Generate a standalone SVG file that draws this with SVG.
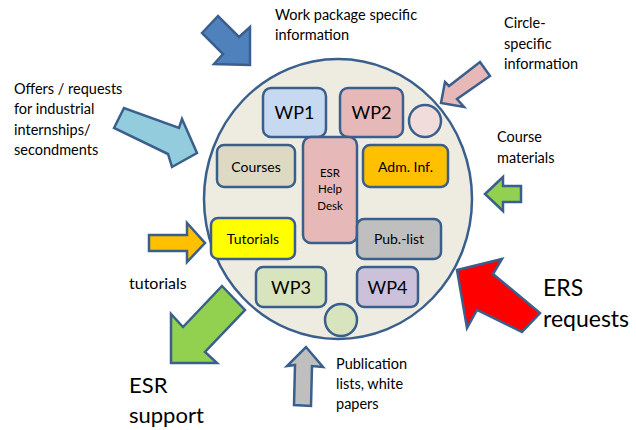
<svg xmlns="http://www.w3.org/2000/svg" width="636" height="430" viewBox="0 0 636 430">
<style>
text{font-family:Lato,"Open Sans","Liberation Sans",sans-serif;fill:#000}
.box{stroke:#3A5F8C;stroke-width:2.5}
.arr{stroke:#3A5F8C;stroke-width:2.5;stroke-linejoin:miter}
.lbl{font-size:14.5px}
.big{font-size:18px}
.mid{font-size:14px}
.hd{font-size:11.5px}
.c{text-anchor:middle}
</style>
<rect width="636" height="430" fill="#fff"/>
<g id="hub">
<ellipse cx="338" cy="199" rx="134" ry="140" fill="#EEECE1" stroke="#3A5F8C" stroke-width="2.5"/>
</g>
<g id="wp1"><rect class="box" x="263" y="88" width="63" height="49" rx="8" fill="#C6D9F1"/><text class="big c" x="294.5" y="119">WP1</text></g>
<g id="wp2"><rect class="box" x="340" y="88" width="63" height="49" rx="8" fill="#E6B9B8"/><text class="big c" x="371.5" y="119">WP2</text></g>
<g id="circleTop"><circle class="box" cx="425" cy="121" r="16" fill="#F2DCDB"/></g>
<g id="courses"><rect class="box" x="217" y="145" width="78" height="42" rx="7" fill="#DDD9C3"/><text class="mid c" x="256" y="171.5">Courses</text></g>
<g id="helpdesk"><rect class="box" x="303" y="137" width="54" height="106" rx="8" fill="#E6B9B8"/><text class="hd c" x="330" y="177">ESR</text><text class="hd c" x="330" y="193">Help</text><text class="hd c" x="330" y="210">Desk</text></g>
<g id="adm"><rect class="box" x="363" y="145" width="85" height="42" rx="7" fill="#FFC000"/><text class="mid c" x="405.5" y="171.5">Adm. Inf.</text></g>
<g id="tutorials"><rect class="box" x="211" y="218" width="84" height="41" rx="7" fill="#FFFF00"/><text class="mid c" x="253" y="243.5">Tutorials</text></g>
<g id="publist"><rect class="box" x="357" y="219" width="84" height="40" rx="7" fill="#BFBFBF"/><text class="mid c" x="399" y="243.5">Pub.-list</text></g>
<g id="wp3"><rect class="box" x="256" y="267" width="70" height="40" rx="7" fill="#D7E4BD"/><text class="big c" x="291" y="293.5">WP3</text></g>
<g id="wp4"><rect class="box" x="357" y="267" width="61" height="40" rx="7" fill="#CCC1DA"/><text class="big c" x="387.5" y="293.5">WP4</text></g>
<g id="circleBottom"><circle class="box" cx="341" cy="320" r="16" fill="#D7E4BD"/></g>
<g id="connectors">
<polygon class="arr" fill="#4F81BD" points="202,33 218,16 239,37 250,27 250,65 214,64 223,54"/>
<polygon class="arr" fill="#93CDDD" points="114,128 124,108 179,128 182,119 197,153 172,167 168,154"/>
<polygon class="arr" fill="#E6B9B8" points="480,62 490,76 457,99 464,107 441,103 445,82 449,86"/>
<polygon class="arr" fill="#92D050" points="521,186 503,186 503,177 485,194 503,211 503,202 521,202"/>
<polygon class="arr" fill="#FFC000" points="149,235 187,235 187,223 205,243 187,262 187,251 149,251"/>
<polygon class="arr" fill="#92D050" points="222,286 245,310 205,352 217,363 171,363 171,314 183,327"/>
<polygon class="arr" fill="#BFBFBF" points="295,365 287,366 306,347 323,367 312,366 311,406 294,405"/>
<polygon class="arr" fill="#FF0000" points="457,270 502,259 493,274 540,313 522,332 477,310 467,328"/>
</g>
<g id="labels">
<text class="lbl" x="275" y="20">Work package specific</text>
<text class="lbl" x="275" y="40">information</text>
<text class="lbl" x="14" y="94">Offers / requests</text>
<text class="lbl" x="14" y="114">for industrial</text>
<text class="lbl" x="14" y="135">internships/</text>
<text class="lbl" x="14" y="155">secondments</text>
<text class="lbl" x="504" y="28">Circle-</text>
<text class="lbl" x="504" y="49">specific</text>
<text class="lbl" x="504" y="69">information</text>
<text class="lbl" x="497" y="142">Course</text>
<text class="lbl" x="497" y="163">materials</text>
<text x="129" y="289" font-size="16">tutorials</text>
<text x="129" y="393" font-size="22">ESR</text>
<text x="129" y="423" font-size="22">support</text>
<text class="lbl" x="336" y="369">Publication</text>
<text class="lbl" x="336" y="389">lists, white</text>
<text class="lbl" x="336" y="409">papers</text>
<text x="543" y="296" font-size="23">ERS</text>
<text x="543" y="327" font-size="23">requests</text>
</g>
</svg>
